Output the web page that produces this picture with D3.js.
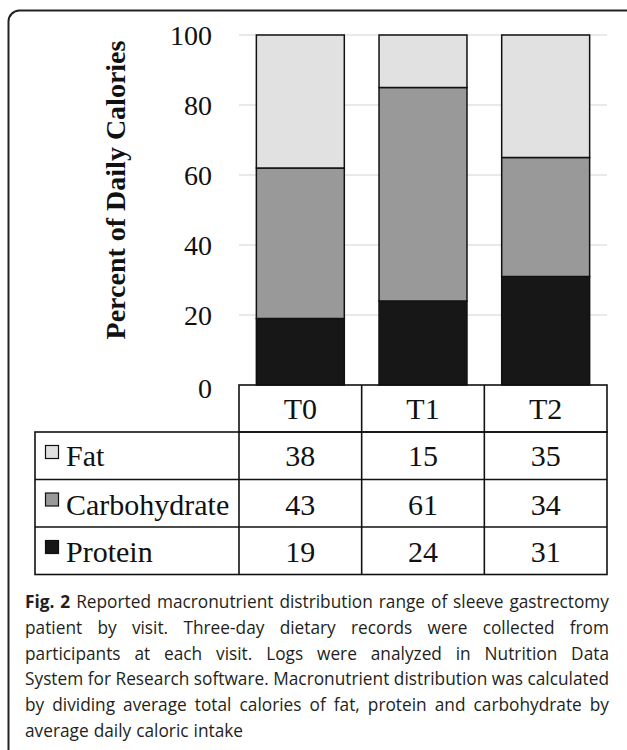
<!DOCTYPE html>
<html>
<head>
<meta charset="utf-8">
<script src="https://cdn.jsdelivr.net/npm/d3@7"></script>
<style>
  html, body { margin: 0; padding: 0; background: #fff; }
  svg { display: block; }
</style>
</head>
<body>
<svg id="chart" width="627" height="750"></svg>
<script>
// ---------- data ----------
const categories = ["T0", "T1", "T2"];
const seriesNames = ["Fat", "Carbohydrate", "Protein"];
const fatValues = [38, 15, 35];
const carbValues = [43, 61, 34];
const proteinValues = [19, 24, 31];
const yTicks = [0, 20, 40, 60, 80, 100];
const yTitle = "Percent of Daily Calories";
const captionLines = [
  "Fig. 2 Reported macronutrient distribution range of sleeve gastrectomy",
  "patient by visit. Three-day dietary records were collected from",
  "participants at each visit. Logs were analyzed in Nutrition Data",
  "System for Research software. Macronutrient distribution was calculated",
  "by dividing average total calories of fat, protein and carbohydrate by",
  "average daily caloric intake"
];

// ---------- styles ----------
const colors = { Fat: "#e1e1e1", Carbohydrate: "#999999", Protein: "#171717" };
const serif = "'Liberation Serif', 'Times New Roman', serif";
const sans = "'Open Sans', 'Noto Sans', sans-serif";

const svg = d3.select("#chart");

// frame
svg.append("rect")
  .attr("x", 8.5).attr("y", 10.5)
  .attr("width", 640).attr("height", 780)
  .attr("rx", 11).attr("ry", 11)
  .attr("fill", "none").attr("stroke", "#222").attr("stroke-width", 2);

// ---------- scales ----------
const plotLeft = 239, plotRight = 607;
const x = d3.scaleBand().domain(categories).range([plotLeft, plotRight]).paddingInner(0.283).paddingOuter(0.1415);
const y = d3.scaleLinear().domain([0, 100]).range([385, 35]);

// gridlines
svg.append("g")
  .selectAll("line").data(yTicks.filter(t => t > 0)).join("line")
  .attr("x1", plotLeft).attr("x2", plotRight)
  .attr("y1", d => y(d)).attr("y2", d => y(d))
  .attr("stroke", "#e2e2e2").attr("stroke-width", 1.5);

// y axis labels via d3 axis
const yAxis = d3.axisLeft(y).tickValues(yTicks).tickSize(0).tickPadding(0);
const gy = svg.append("g").attr("transform", `translate(212,0)`).call(yAxis);
gy.select(".domain").remove();
gy.selectAll("text")
  .attr("font-family", serif).attr("font-size", 28).attr("fill", "#111")
  .attr("dy", "0.33em");
gy.selectAll(".tick").filter(d => d === 0).select("text").attr("dy", "0.45em");

// y title
svg.append("text")
  .attr("transform", "translate(125,190) rotate(-90)")
  .attr("text-anchor", "middle")
  .attr("font-family", serif).attr("font-weight", "bold").attr("font-size", 28)
  .attr("fill", "#111")
  .text(yTitle);

// ---------- stacked bars ----------
const rows = categories.map((c, i) => ({
  cat: c, Fat: fatValues[i], Carbohydrate: carbValues[i], Protein: proteinValues[i]
}));
const stack = d3.stack().keys(["Protein", "Carbohydrate", "Fat"]);
const stacked = stack(rows);

svg.append("g").selectAll("g").data(stacked).join("g")
  .attr("fill", d => colors[d.key])
  .selectAll("rect").data(d => d).join("rect")
  .attr("x", d => x(d.data.cat))
  .attr("width", x.bandwidth())
  .attr("y", d => y(d[1]))
  .attr("height", d => y(d[0]) - y(d[1]))
  .attr("stroke", "#111").attr("stroke-width", 1.5);

// ---------- data table ----------
const tableLeft = 35;
const headerTop = 385, headerBottom = 432;
const rowEdges = [432, 479.5, 527, 574.5];
const colEdges = [plotLeft].concat(categories.map(c => x(c) + x.bandwidth() + x.step() * x.paddingInner() / 2));
colEdges[colEdges.length - 1] = plotRight;

const tg = svg.append("g").attr("stroke", "#111").attr("stroke-width", 1.6).attr("fill", "none");
tg.append("rect").attr("x", plotLeft).attr("y", headerTop)
  .attr("width", plotRight - plotLeft).attr("height", headerBottom - headerTop);
tg.append("rect").attr("x", tableLeft).attr("y", rowEdges[0])
  .attr("width", plotRight - tableLeft).attr("height", rowEdges[3] - rowEdges[0]);
tg.selectAll("line.h").data(rowEdges.slice(1, 3)).join("line").attr("class", "h")
  .attr("x1", tableLeft).attr("x2", plotRight).attr("y1", d => d).attr("y2", d => d);
tg.selectAll("line.v").data(colEdges.slice(0, 3)).join("line").attr("class", "v")
  .attr("x1", d => d).attr("x2", d => d)
  .attr("y1", (d, i) => i === 0 ? rowEdges[0] : headerTop).attr("y2", rowEdges[3]);

const tableFont = 30;
svg.append("g").selectAll("text").data(categories).join("text")
  .attr("x", d => x(d) + x.bandwidth() / 2)
  .attr("y", 419)
  .attr("text-anchor", "middle")
  .attr("font-family", serif).attr("font-size", tableFont).attr("fill", "#111")
  .text(d => d);

const tableRows = [
  { name: "Fat", values: fatValues },
  { name: "Carbohydrate", values: carbValues },
  { name: "Protein", values: proteinValues }
];
const baselines = [466, 514.5, 562];

tableRows.forEach((r, i) => {
  const g = svg.append("g");
  const top = rowEdges[i];
  g.append("rect")
    .attr("x", 45.5).attr("y", top + 13.5)
    .attr("width", 13).attr("height", 13)
    .attr("fill", colors[r.name]).attr("stroke", "#111").attr("stroke-width", 1.2);
  g.append("text")
    .attr("x", 66).attr("y", baselines[i])
    .attr("font-family", serif).attr("font-size", tableFont).attr("fill", "#111")
    .text(r.name);
  g.selectAll("text.v").data(r.values).join("text").attr("class", "v")
    .attr("x", (d, j) => x(categories[j]) + x.bandwidth() / 2)
    .attr("y", baselines[i])
    .attr("text-anchor", "middle")
    .attr("font-family", serif).attr("font-size", tableFont).attr("fill", "#111")
    .text(d => d);
});

// ---------- caption (justified) ----------
const capLeft = 25, capRight = 609, capW = capRight - capLeft;
const capTop = 608, capStep = 25.8;
const capFont = 18.5;
const capG = svg.append("g").attr("font-family", sans).attr("font-size", capFont).attr("fill", "#231f20");

const measure = capG.append("text").attr("visibility", "hidden");
function wordWidth(w, bold) {
  measure.attr("font-weight", bold ? "bold" : "normal").text(w);
  return measure.node().getComputedTextLength();
}
const lineWords = captionLines.map((ln, li) => ln.split(" ").map((w, wi) => ({
  w, bold: li === 0 && wi < 2
})));
lineWords.forEach(ws => ws.forEach(o => o.width = wordWidth(o.w, o.bold)));
const minGap = 4.5;
let squeeze = 1;
lineWords.forEach(ws => {
  const sum = d3.sum(ws, o => o.width);
  const need = (capW - minGap * (ws.length - 1)) / sum;
  squeeze = Math.min(squeeze, need);
});
measure.remove();

lineWords.forEach((ws, li) => {
  const sum = d3.sum(ws, o => o.width * squeeze);
  const last = li === lineWords.length - 1;
  const gap = last ? 5 : (capW - sum) / (ws.length - 1);
  let cx = capLeft;
  ws.forEach(o => {
    const t = capG.append("text")
      .attr("x", cx).attr("y", capTop + li * capStep)
      .attr("font-weight", o.bold ? "bold" : "normal")
      .text(o.w);
    if (squeeze < 1) t.attr("textLength", o.width * squeeze).attr("lengthAdjust", "spacingAndGlyphs");
    cx += o.width * squeeze + gap;
  });
});
</script>
</body>
</html>
